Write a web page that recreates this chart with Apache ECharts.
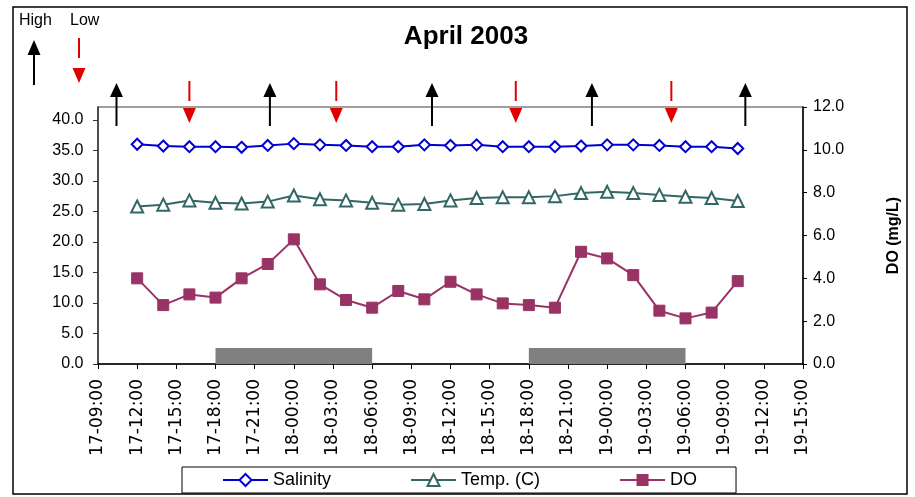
<!DOCTYPE html>
<html>
<head>
<meta charset="utf-8">
<script src="https://cdn.jsdelivr.net/npm/echarts@6/dist/echarts.min.js"></script>
<style>html,body{margin:0;padding:0;background:#fff;}#c{width:915px;height:497px;}</style>
</head>
<body>
<div id="c"></div>
<script>
// ---- data ----
const sampleTimes = ['17-12:00','17-14:00','17-16:00','17-18:00','17-20:00','17-22:00',
  '18-00:00','18-02:00','18-04:00','18-06:00','18-08:00','18-10:00','18-12:00','18-14:00',
  '18-16:00','18-18:00','18-20:00','18-22:00','19-00:00','19-02:00','19-04:00','19-06:00',
  '19-08:00','19-10:00'];
const salinity = [36.0,35.7,35.6,35.6,35.5,35.8,36.1,35.9,35.8,35.6,35.6,35.9,35.8,35.9,
  35.6,35.6,35.6,35.7,35.9,35.9,35.8,35.6,35.6,35.3];
const temperature = [25.8,26.1,26.8,26.4,26.3,26.6,27.6,27.0,26.8,26.4,26.1,26.2,26.8,27.2,
  27.3,27.3,27.5,28.0,28.2,28.0,27.7,27.4,27.2,26.7];
const dissolvedOxygen = [4.00,2.75,3.25,3.10,4.00,4.67,5.82,3.72,2.99,2.63,3.41,3.02,3.84,3.25,
  2.83,2.75,2.63,5.24,4.93,4.15,2.49,2.13,2.40,3.87];
const xTickLabels = ['17-09:00','17-12:00','17-15:00','17-18:00','17-21:00','18-00:00','18-03:00',
  '18-06:00','18-09:00','18-12:00','18-15:00','18-18:00','18-21:00','19-00:00','19-03:00',
  '19-06:00','19-09:00','19-12:00','19-15:00'];
const leftTicks = [0,5,10,15,20,25,30,35,40];
const rightTicks = [0,2,4,6,8,10,12];
const highTideTimes = ['17-10:25','17-22:10','18-10:35','18-22:50','19-10:35'];
const lowTideTimes = ['17-16:00','18-03:15','18-17:00','19-04:55'];
const nightStart = ['17-18:00','18-18:00'];
const nightEnd = ['18-06:00','19-06:00'];
const nightBarLevel = 0.75; // DO units
const seriesNames = ['Salinity','Temp. (C)','DO'];

// hours since 17-09:00
function toHours(s){
  const parts = s.split('-');
  const hm = parts[1].split(':');
  return (Number(parts[0]) - 17) * 24 + Number(hm[0]) - 9 + Number(hm[1]) / 60;
}
const X0 = toHours(xTickLabels[0]);
const XMAX = toHours(xTickLabels[xTickLabels.length - 1]);
const pair = (arr) => sampleTimes.map((t, i) => [toHours(t), arr[i]]);

const FONT = '"Liberation Sans", Arial, sans-serif';
const chart = echarts.init(document.getElementById('c'), null, {renderer: 'canvas'});

function arrowRender(kind){
  return function(params, api){
    const x = api.coord([api.value(0), 0])[0];
    const top = params.coordSys.y;
    if (kind === 'high') {
      return {type: 'group', children: [
        {type: 'line', shape: {x1: x, y1: top - 12, x2: x, y2: top + 19},
          style: {stroke: '#000', lineWidth: 2}},
        {type: 'polygon', shape: {points: [[x, top - 24], [x - 6.5, top - 10], [x + 6.5, top - 10]]},
          style: {fill: '#000'}}
      ]};
    }
    return {type: 'group', children: [
      {type: 'line', shape: {x1: x, y1: top - 26, x2: x, y2: top - 6},
        style: {stroke: '#e00000', lineWidth: 2}},
      {type: 'polygon', shape: {points: [[x - 6.5, top + 1], [x + 6.5, top + 1], [x, top + 16]]},
        style: {fill: '#e00000'}}
    ]};
  };
}

const option = {
  backgroundColor: '#fff',
  animation: false,
  textStyle: {fontFamily: FONT},
  title: {
    text: 'April 2003', left: 461, top: 19, textAlign: 'center',
    textStyle: {fontFamily: FONT, fontSize: 26, fontWeight: 'bold', color: '#000'}
  },
  grid: {left: 98, right: 112, top: 107, bottom: 133, show: true, borderColor: '#808080', borderWidth: 1.5},
  legend: {
    data: seriesNames, left: 182, top: 467,
    padding: [4, 39, 4, 40], itemGap: 79, itemWidth: 45, itemHeight: 15,
    borderColor: '#000', borderWidth: 1, backgroundColor: '#fff',
    textStyle: {fontFamily: FONT, fontSize: 18, color: '#000'}
  },
  xAxis: {
    type: 'value', min: X0, max: XMAX, interval: 3,
    axisLine: {lineStyle: {color: '#000', width: 1.5}, onZero: false},
    axisTick: {show: true, length: 5, lineStyle: {color: '#000'}},
    splitLine: {show: false},
    axisLabel: {
      rotate: 90, fontFamily: '"DejaVu Sans", sans-serif', fontSize: 17, color: '#000', margin: 15,
      formatter: (v) => xTickLabels[Math.round((v - X0) / 3)] || ''
    }
  },
  yAxis: [
    {
      type: 'value', min: 0, max: 42.1, position: 'left',
      axisLine: {show: true, lineStyle: {color: '#333', width: 1.5}},
      axisTick: {show: true, length: 5, customValues: leftTicks, lineStyle: {color: '#333'}},
      splitLine: {show: false},
      axisLabel: {customValues: leftTicks, fontFamily: FONT, fontSize: 16, color: '#000', margin: 14.5,
        formatter: (v) => v.toFixed(1)}
    },
    {
      type: 'value', min: 0, max: 12, interval: 2, position: 'right',
      name: 'DO (mg/L)', nameLocation: 'middle', nameRotate: 90, nameGap: 83,
      nameTextStyle: {fontFamily: FONT, fontSize: 16, fontWeight: 'bold', color: '#000'},
      axisLine: {show: true, lineStyle: {color: '#000', width: 1.5}},
      axisTick: {show: true, length: 4, customValues: rightTicks, lineStyle: {color: '#000'}},
      splitLine: {show: false},
      axisLabel: {customValues: rightTicks, fontFamily: FONT, fontSize: 16, color: '#000', margin: 10,
        formatter: (v) => v.toFixed(1)}
    }
  ],
  series: [
    {
      name: 'Night', type: 'line', yAxisIndex: 1, data: [], silent: true,
      markArea: {
        silent: true,
        itemStyle: {color: '#808080', opacity: 1},
        data: nightStart.map((s, i) => [{coord: [toHours(s), 0]}, {coord: [toHours(nightEnd[i]), nightBarLevel]}])
      }
    },
    {
      name: 'Salinity', type: 'line', yAxisIndex: 0, data: pair(salinity),
      symbol: 'diamond', symbolSize: 11, z: 5,
      lineStyle: {color: '#0000d0', width: 2},
      itemStyle: {color: '#fff', borderColor: '#0000d0', borderWidth: 2}
    },
    {
      name: 'Temp. (C)', type: 'line', yAxisIndex: 0, data: pair(temperature),
      symbol: 'triangle', symbolSize: 12, z: 5,
      lineStyle: {color: '#336666', width: 2},
      itemStyle: {color: '#fff', borderColor: '#336666', borderWidth: 2}
    },
    {
      name: 'DO', type: 'line', yAxisIndex: 1, data: pair(dissolvedOxygen),
      symbol: 'rect', symbolSize: 11, z: 5,
      lineStyle: {color: '#993366', width: 2},
      itemStyle: {color: '#993366', borderColor: '#993366'}
    },
    {
      name: 'High tide', type: 'custom', yAxisIndex: 0, clip: false, silent: true, z: 6,
      data: highTideTimes.map((t) => [toHours(t)]),
      renderItem: arrowRender('high')
    },
    {
      name: 'Low tide', type: 'custom', yAxisIndex: 0, clip: false, silent: true, z: 6,
      data: lowTideTimes.map((t) => [toHours(t)]),
      renderItem: arrowRender('low')
    }
  ],
  graphic: [
    {type: 'rect', shape: {x: 13, y: 7, width: 894, height: 487}, silent: true, z: -10,
      style: {fill: 'none', stroke: '#000', lineWidth: 1.5}},
    {type: 'text', left: 19, top: 13, style: {text: 'High', fontFamily: FONT, fontSize: 16, fill: '#000'}},
    {type: 'text', left: 70, top: 13, style: {text: 'Low', fontFamily: FONT, fontSize: 16, fill: '#000'}},
    {type: 'line', shape: {x1: 34, y1: 52, x2: 34, y2: 85}, style: {stroke: '#000', lineWidth: 2}},
    {type: 'polygon', shape: {points: [[34, 40], [27.5, 55], [40.5, 55]]}, style: {fill: '#000'}},
    {type: 'line', shape: {x1: 79, y1: 38, x2: 79, y2: 58}, style: {stroke: '#e00000', lineWidth: 2}},
    {type: 'polygon', shape: {points: [[72.5, 68], [85.5, 68], [79, 83]]}, style: {fill: '#e00000'}}
  ]
};
chart.setOption(option);
</script>
</body>
</html>
